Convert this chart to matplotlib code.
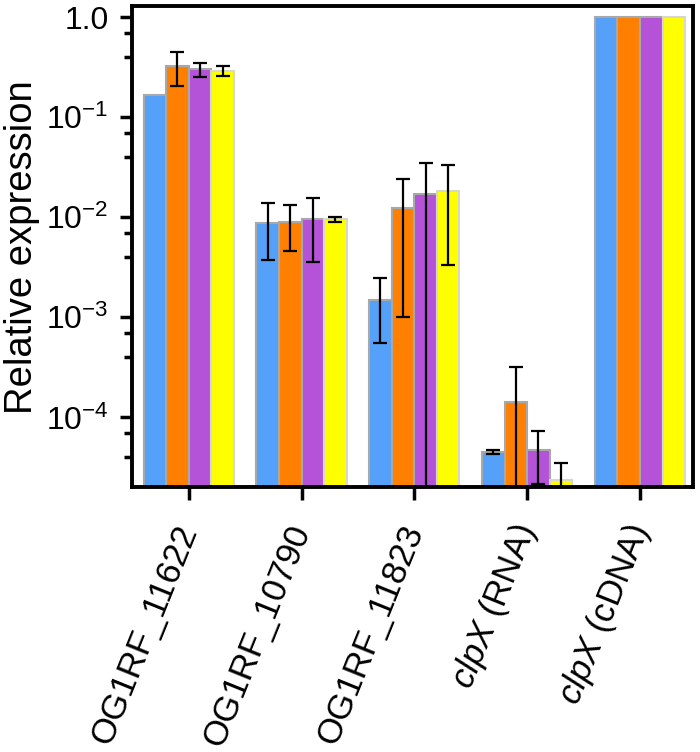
import matplotlib
matplotlib.use("Agg")
import matplotlib.pyplot as plt
import numpy as np

plt.rcParams['font.family'] = ['Liberation Sans', 'DejaVu Sans']
plt.rcParams['mathtext.fontset'] = 'custom'
plt.rcParams['mathtext.rm'] = 'Liberation Sans'
plt.rcParams['mathtext.it'] = 'Liberation Sans:italic'

# Data
genes = ['OG1RF_11622', 'OG1RF_10790', 'OG1RF_11823',
         r'$\mathit{clpX}$ (RNA)', r'$\mathit{clpX}$ (cDNA)']

blue_vals = [0.166, 0.0088, 0.0015, 4.5e-5, 1.0]
blue_err = [0.0, 0.0051, 0.00095, 2e-6, 0.0]
orange_vals = [0.326, 0.0089, 0.0125, 1.42e-4, 1.0]
orange_err = [0.12, 0.0043, 0.0115, 1.8e-4, 0.0]
purple_vals = [0.30, 0.0096, 0.0169, 4.75e-5, 1.0]
purple_err = [0.05, 0.006, 0.018, 2.6e-5, 0.0]
yellow_vals = [0.29, 0.0095, 0.0183, 2.38e-5, 1.0]
yellow_err = [0.031, 0.0006, 0.015, 1.1e-5, 0.0]

series = [
    (blue_vals, blue_err, '#55a0f8', '#a8a8a8'),
    (orange_vals, orange_err, '#ff8000', '#a8a8a8'),
    (purple_vals, purple_err, '#b452d8', '#a8a8a8'),
    (yellow_vals, yellow_err, '#ffff00', '#d8d8c8'),
]

fig = plt.figure(figsize=(7, 7.52), dpi=100)
ax = fig.add_axes([0.189, 0.352, 0.801, 0.640])

x = np.arange(len(genes))
width = 0.2
offsets = [-0.3, -0.1, 0.1, 0.3]

for (vals, errs, color, edge), off in zip(series, offsets):
    ax.bar(x + off, vals, width, bottom=1e-7, color=color,
           edgecolor=edge, linewidth=1.5, zorder=2)
    vals = np.array(vals)
    errs = np.array(errs)
    # skip bars without error bars
    mask = errs > 0
    ax.errorbar(x[mask] + off, vals[mask], yerr=errs[mask], fmt='none',
                ecolor='black', elinewidth=1.6, capsize=5, capthick=1.6,
                zorder=3)

ax.set_yscale('log')
ax.set_ylim(2e-5, 1.29)
ax.set_xlim(-0.5, 4.47)

major = [1.0, 1e-1, 1e-2, 1e-3, 1e-4]
major_labels = ['1.0', '$10^{-1}$', '$10^{-2}$', '$10^{-3}$', '$10^{-4}$']
ax.set_yticks(major)
ax.set_yticklabels(major_labels)
minor = [m * d for d in [1.0, 1e-1, 1e-2, 1e-3, 1e-4] for m in (0.7, 0.4)]
ax.set_yticks(minor, minor=True)
ax.yaxis.set_minor_formatter(matplotlib.ticker.NullFormatter())

ax.set_xticks(x)
ax.set_xticklabels(genes, rotation=68, ha='right', va='center',
                   rotation_mode='anchor', fontsize=25)

ax.tick_params(axis='y', which='major', direction='out', length=9,
               width=2.5, labelsize=23, pad=8)
ax.tick_params(axis='x', which='major', direction='out', length=9,
               width=2.5, pad=19)
ax.tick_params(axis='y', which='minor', direction='out', length=6, width=2.5)

for s in ax.spines.values():
    s.set_linewidth(2.8)

ax.set_ylabel('Relative expression', fontsize=27.5, labelpad=4)

fig.savefig('out.png', dpi=100)
